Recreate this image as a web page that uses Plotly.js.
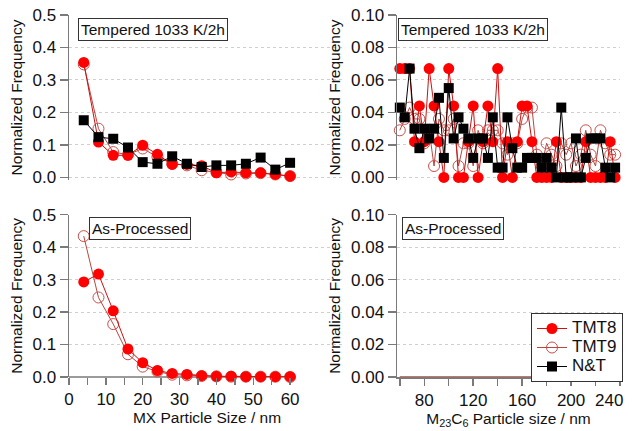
<!DOCTYPE html>
<html>
<head>
<meta charset="utf-8">
<script src="https://cdn.plot.ly/plotly-3.0.1.min.js"></script>
<style>html,body{margin:0;padding:0;background:#fff;}#chart{width:633px;height:431px;}</style>
</head>
<body>
<div id="chart"></div>
<script>
// ---- data ----
const mxSizes = [4, 8, 12, 16, 20, 24, 28, 32, 36, 40, 44, 48, 52, 56, 60];
const mxTempTMT8 = [0.354, 0.109, 0.068, 0.068, 0.099, 0.071, 0.040, 0.040, 0.036, 0.014, 0.017, 0.014, 0.014, 0.009, 0.004];
const mxTempTMT9 = [0.348, 0.150, 0.078, 0.070, 0.089, 0.063, 0.042, 0.037, 0.022, 0.016, 0.009, 0.012, 0.013, 0.009, 0.004];
const mxTempNT   = [0.176, 0.124, 0.119, 0.092, 0.047, 0.042, 0.065, 0.042, 0.032, 0.037, 0.037, 0.042, 0.061, 0.024, 0.045];
const mxAsTMT8   = [0.293, 0.317, 0.204, 0.086, 0.044, 0.020, 0.011, 0.008, 0.004, 0.002, 0.002, 0.001, 0.001, 0.001, 0.001];
const mxAsTMT9   = [0.434, 0.245, 0.163, 0.070, 0.032, 0.017, 0.007, 0.005, 0.003, 0.002, 0.001, 0.001, 0.001, 0.001, 0.000];

const m23Sizes = [60, 64, 68, 72, 76, 80, 84, 88, 92, 96, 100, 104, 108, 112, 116, 120, 124, 128, 132, 136,
                  140, 144, 148, 152, 156, 160, 164, 168, 172, 176, 180, 184, 188, 192, 196, 200, 204, 208, 212, 216,
                  220, 224, 228, 232, 236];
const m23TempTMT8 = [0.067, 0.067, 0.067, 0.022, 0.044, 0.022, 0.067, 0.044, 0.022, 0.000, 0.067, 0.044, 0.000, 0.000, 0.022,
                     0.044, 0.000, 0.022, 0.044, 0.022, 0.067, 0.000, 0.022, 0.000, 0.022, 0.044, 0.044, 0.022, 0.000, 0.000,
                     0.000, 0.000, 0.022, 0.000, 0.000, 0.000, 0.000, 0.000, 0.022, 0.000, 0.000, 0.000, 0.000, 0.022, 0.000];
const m23TempTMT9 = [0.029, 0.036, 0.043, 0.036, 0.036, 0.021, 0.029, 0.007, 0.036, 0.029, 0.029, 0.036, 0.007, 0.021, 0.021,
                     0.007, 0.029, 0.021, 0.029, 0.029, 0.029, 0.021, 0.014, 0.021, 0.021, 0.036, 0.043, 0.043, 0.014, 0.007,
                     0.021, 0.014, 0.007, 0.021, 0.014, 0.021, 0.007, 0.014, 0.029, 0.014, 0.007, 0.029, 0.021, 0.014, 0.014];
const m23TempNT   = [0.043, 0.037, 0.067, 0.030, 0.018, 0.030, 0.024, 0.030, 0.049, 0.012, 0.055, 0.024, 0.037, 0.030, 0.024,
                     0.012, 0.024, 0.024, 0.012, 0.037, 0.006, 0.006, 0.037, 0.018, 0.006, 0.006, 0.012, 0.012, 0.012, 0.006,
                     0.012, 0.006, 0.000, 0.043, 0.000, 0.000, 0.024, 0.000, 0.012, 0.024, 0.024, 0.024, 0.006, 0.000, 0.006];
// As-processed M23C6: no carbides counted (all zero)
const m23AsSizes = [60, 240];
const m23AsTMT8  = [0, 0];

const seriesNames = ['TMT8', 'TMT9', 'N&T'];
const panelLabels = ['Tempered 1033 K/2h', 'As-Processed'];
const mxTicks = [0, 10, 20, 30, 40, 50, 60];
const mxMinorTicks = [5, 15, 25, 35, 45, 55];
const m23Ticks = [80, 120, 160, 200];
const m23EdgeTick = 240;   // labelled separately so it stays inside the picture
const m23MinorTicks = [60, 100, 140, 180, 220, 240];

// ---- styles ----
const FONT = 'Arial, "Liberation Sans", sans-serif';
const sTMT8 = {mode: 'lines+markers', line: {color: '#cc1111', width: 1},
  marker: {symbol: 'circle', size: 11, color: '#ff0000', line: {width: 0}}};
const sTMT9 = {mode: 'lines+markers', line: {color: '#b8453f', width: 1},
  marker: {symbol: 'circle-open', size: 11, color: '#c9504a', line: {width: 1}}};
const sNT = {mode: 'lines+markers', line: {color: '#000000', width: 1},
  marker: {symbol: 'square', size: 10, color: '#000000', line: {width: 0}}};

function lg(name) { return '<span style="font-size:17px">' + name + '</span>'; }

function tr(x, y, style, name, xa, ya, legend, rank) {
  return Object.assign({x: x, y: y, name: legend ? lg(name) : name, xaxis: xa, yaxis: ya,
    showlegend: legend, legendrank: rank, cliponaxis: false}, JSON.parse(JSON.stringify(style)));
}

const data = [
  tr(mxSizes, mxTempTMT9, sTMT9, seriesNames[1], 'x', 'y', true, 2),
  tr(mxSizes, mxTempTMT8, sTMT8, seriesNames[0], 'x', 'y', true, 1),
  tr(mxSizes, mxTempNT, sNT, seriesNames[2], 'x', 'y', true, 3),
  tr(m23Sizes, m23TempTMT9, sTMT9, seriesNames[1], 'x2', 'y2', false, 2),
  tr(m23Sizes, m23TempTMT8, sTMT8, seriesNames[0], 'x2', 'y2', false, 1),
  tr(m23Sizes, m23TempNT, sNT, seriesNames[2], 'x2', 'y2', false, 3),
  tr(mxSizes, mxAsTMT9, sTMT9, seriesNames[1], 'x3', 'y3', false, 2),
  tr(mxSizes, mxAsTMT8, sTMT8, seriesNames[0], 'x3', 'y3', false, 1),
  {x: m23AsSizes, y: m23AsTMT8, name: seriesNames[0], xaxis: 'x4', yaxis: 'y4', mode: 'lines',
   line: {color: '#b8453f', width: 1.5}, showlegend: false, cliponaxis: false}
];

const W = 633, H = 431;
const fx = p => p / W, fy = p => 1 - p / H;
const leftDom = [fx(69), fx(345)], rightDom = [fx(397), fx(620)];
const topDom = [fy(180), fy(15)], botDom = [fy(377), fy(214.7)];
const axColor = '#7a7a7a';
const TICKFONT = {family: FONT, size: 17, color: '#111'};
const TITLEFONT = {family: FONT, size: 15.5, color: '#111'};

function yax(dom, range, dtick, fmt, anchor) {
  return {domain: dom, range: range, anchor: anchor, tickmode: 'linear', tick0: 0, dtick: dtick,
    tickformat: fmt, showline: true, linecolor: axColor, linewidth: 1.5, ticks: 'outside', ticklen: 8,
    tickcolor: axColor, tickwidth: 1.5, showgrid: true, gridcolor: '#cfcfcf', griddash: 'dot', gridwidth: 1,
    zeroline: false, tickfont: TICKFONT,
    title: {text: 'Normalized Frequency', font: TITLEFONT, standoff: 6}};
}
function xaxHidden(dom, range, anchor) {
  return {domain: dom, range: range, anchor: anchor, showline: false, showgrid: false, zeroline: false,
    showticklabels: false, ticks: ''};
}
function boxLabel(text, px, py) {
  return {text: text, xref: 'paper', yref: 'paper', x: fx(px), y: fy(py), xanchor: 'left', yanchor: 'top',
    showarrow: false, bgcolor: '#fff', bordercolor: '#333', borderwidth: 1, borderpad: 2,
    font: {family: FONT, size: 15.5, color: '#111'}};
}

const layout = {
  width: W, height: H, margin: {l: 0, r: 0, t: 0, b: 0}, paper_bgcolor: '#fff', plot_bgcolor: 'rgba(0,0,0,0)',
  font: {family: FONT, size: 15, color: '#111'},
  xaxis: xaxHidden(leftDom, [0, 74.9], 'y'),
  yaxis: yax(topDom, [-0.008, 0.5], 0.1, '.1f', 'x'),
  xaxis2: xaxHidden(rightDom, [57.7, 240], 'y2'),
  yaxis2: yax(topDom, [-0.0016, 0.1], 0.02, '.2f', 'x2'),
  xaxis3: {domain: leftDom, range: [0, 74.9], anchor: 'y3', showline: false, showgrid: false, zeroline: false,
    tickmode: 'array', tickvals: mxTicks, ticks: 'outside', ticklen: 7, tickwidth: 1.5,
    tickcolor: axColor, tickfont: TICKFONT,
    minor: {tickmode: 'array', tickvals: mxMinorTicks, ticks: 'outside', ticklen: 7, tickwidth: 1.5, tickcolor: axColor, showgrid: false},
    title: {text: 'MX Particle Size / nm', font: TITLEFONT, standoff: 3}},
  yaxis3: yax(botDom, [0, 0.5], 0.1, '.1f', 'x3'),
  xaxis4: {domain: rightDom, range: [57.7, 240], anchor: 'y4', showline: true, linecolor: axColor, linewidth: 1.5,
    showgrid: false, zeroline: false, tickmode: 'array', tickvals: m23Ticks,
    ticks: 'outside', ticklen: 7, tickwidth: 1.5, tickcolor: axColor, tickfont: TICKFONT,
    minor: {tickmode: 'array', tickvals: m23MinorTicks, ticks: 'outside', ticklen: 7, tickwidth: 1.5, tickcolor: axColor, showgrid: false},
    title: {text: 'M<sub>23</sub>C<sub>6</sub> Particle size / nm', font: TITLEFONT, standoff: 3}},
  yaxis4: yax(botDom, [0, 0.1], 0.02, '.2f', 'x4'),
  shapes: [
    {type: 'line', xref: 'x3', yref: 'y3 domain', x0: 0, x1: 61, y0: 0, y1: 0,
     line: {color: axColor, width: 1.5}, layer: 'below'}
  ],
  annotations: [
    boxLabel(panelLabels[0], 78, 18),
    boxLabel(panelLabels[0], 398, 18),
    boxLabel(panelLabels[1], 89, 217),
    boxLabel(panelLabels[1], 402, 217),
    {text: String(m23EdgeTick), xref: 'x4', yref: 'y4 domain', x: m23EdgeTick, y: 0, xanchor: 'right', yanchor: 'top',
     xshift: 4, yshift: -13, showarrow: false, borderpad: 0, font: TICKFONT}
  ],
  legend: {x: fx(623), y: fy(313), xanchor: 'right', yanchor: 'top', bgcolor: '#fff', bordercolor: '#333',
    borderwidth: 1, font: {family: FONT, size: 11, color: '#111'}, itemwidth: 30, tracegroupgap: 0,
    traceorder: 'normal'}
};

Plotly.newPlot('chart', data, layout, {staticPlot: true, displayModeBar: false});
</script>
</body>
</html>
